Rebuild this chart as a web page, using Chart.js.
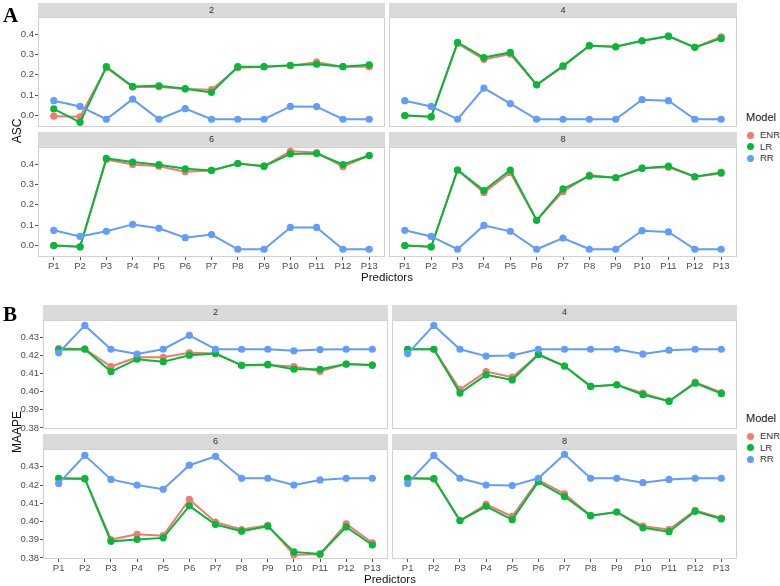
<!DOCTYPE html>
<html>
<head>
<meta charset="utf-8">
<script src="https://cdn.jsdelivr.net/npm/chart.js@4.4.1/dist/chart.umd.min.js"></script>
<style>
  body{margin:0;background:#fff;font-family:'Liberation Sans',Arial,sans-serif}
  #fig{position:relative;width:780px;height:586px;overflow:hidden;background:#fff}
  #fig canvas{position:absolute}
  .strip{position:absolute;background:#dadada;color:#333;font-size:9px;text-align:center}
  .lbl{position:absolute;white-space:nowrap}
  .key{position:absolute;width:7px;height:7px;border-radius:50%}
</style>
</head>
<body>
<div id="fig"></div>
<script>
// Facetted line plots: ASC (panel A) and MAAPE (panel B) by number of predictors

const predictors = ['P1','P2','P3','P4','P5','P6','P7','P8','P9','P10','P11','P12','P13']
const models = ['ENR','LR','RR']
const modelColors = ['#F8766D','#00BA38','#619CFF']
const ascTicks = [0, 0.1, 0.2, 0.3, 0.4]
const maapeTicks = [0.38, 0.39, 0.40, 0.41, 0.42, 0.43]

// panel A - ASC
const ascENR2 = [-0.003,-0.006,0.235,0.140,0.142,0.130,0.127,0.235,0.240,0.245,0.262,0.240,0.240]
const ascLR2  = [0.033,-0.033,0.240,0.143,0.146,0.132,0.114,0.240,0.240,0.247,0.252,0.240,0.249]
const ascRR2  = [0.073,0.045,-0.018,0.081,-0.018,0.034,-0.018,-0.018,-0.018,0.045,0.044,-0.018,-0.018]

const ascENR4 = [0.000,-0.006,0.354,0.276,0.302,0.151,0.240,0.343,0.338,0.367,0.390,0.335,0.387]
const ascLR4  = [0.000,-0.006,0.359,0.285,0.310,0.151,0.244,0.343,0.338,0.367,0.390,0.335,0.379]
const ascRR4  = [0.073,0.045,-0.018,0.135,0.059,-0.018,-0.018,-0.018,-0.018,0.078,0.073,-0.018,-0.018]

const ascENR6 = [0.000,-0.006,0.423,0.398,0.390,0.363,0.369,0.403,0.390,0.463,0.457,0.387,0.442]
const ascLR6  = [0.000,-0.006,0.428,0.410,0.397,0.377,0.369,0.403,0.390,0.450,0.452,0.398,0.442]
const ascRR6  = [0.075,0.045,0.070,0.104,0.085,0.039,0.054,-0.018,-0.018,0.089,0.089,-0.018,-0.018]

const ascENR8 = [0.000,-0.006,0.371,0.260,0.359,0.124,0.265,0.346,0.333,0.380,0.384,0.338,0.354]
const ascLR8  = [0.000,-0.006,0.371,0.270,0.371,0.124,0.278,0.341,0.333,0.380,0.390,0.338,0.359]
const ascRR8  = [0.075,0.045,-0.018,0.099,0.070,-0.018,0.037,-0.018,-0.018,0.073,0.067,-0.018,-0.018]

// panel B - MAAPE
const maapeENR2 = [0.4240,0.4238,0.4140,0.4191,0.4191,0.4216,0.4212,0.4147,0.4149,0.4140,0.4114,0.4154,0.4150]
const maapeLR2  = [0.4234,0.4236,0.4112,0.4181,0.4167,0.4203,0.4212,0.4147,0.4152,0.4125,0.4125,0.4154,0.4147]
const maapeRR2  = [0.4216,0.4368,0.4236,0.4209,0.4236,0.4313,0.4236,0.4236,0.4236,0.4227,0.4234,0.4236,0.4236]

const maapeENR4 = [0.4236,0.4236,0.4012,0.4112,0.4081,0.4207,0.4143,0.4030,0.4039,0.3993,0.3948,0.4054,0.3996]
const maapeLR4  = [0.4236,0.4236,0.3993,0.4094,0.4066,0.4207,0.4143,0.4030,0.4039,0.3984,0.3948,0.4048,0.3990]
const maapeRR4  = [0.4212,0.4368,0.4236,0.4198,0.4201,0.4236,0.4236,0.4236,0.4236,0.4209,0.4231,0.4236,0.4236]

const maapeENR6 = [0.4235,0.4235,0.3901,0.3930,0.3922,0.4121,0.3996,0.3956,0.3979,0.3818,0.3820,0.3987,0.3883]
const maapeLR6  = [0.4237,0.4235,0.3891,0.3901,0.3910,0.4086,0.3983,0.3947,0.3974,0.3833,0.3822,0.3970,0.3871]
const maapeRR6  = [0.4209,0.4363,0.4231,0.4200,0.4177,0.4309,0.4358,0.4237,0.4237,0.4200,0.4228,0.4237,0.4237]

const maapeENR8 = [0.4237,0.4235,0.4005,0.4094,0.4028,0.4228,0.4152,0.4032,0.4052,0.3974,0.3956,0.4061,0.4019]
const maapeLR8  = [0.4237,0.4235,0.4005,0.4083,0.4010,0.4218,0.4137,0.4032,0.4052,0.3965,0.3944,0.4056,0.4014]
const maapeRR8  = [0.4209,0.4363,0.4237,0.4200,0.4197,0.4237,0.4369,0.4237,0.4237,0.4213,0.4231,0.4237,0.4237]

const AX_Y = 34, AX_X = 16, PAD = 6
const fig = document.getElementById('fig')
Chart.defaults.font.family = "'Liberation Sans', Arial, sans-serif"

const panelBorder = {
  id:'panelBorder',
  beforeDatasetsDraw(chart){
    const a = chart.chartArea, c = chart.ctx
    c.save()
    c.strokeStyle = '#d2d2d2'
    c.lineWidth = 1
    c.strokeRect(a.left+0.5, a.top+0.5, a.width-1, a.height-1)
    c.restore()
  }
}

function addText(txt, css){
  const d = document.createElement('div')
  d.className = 'lbl'
  d.textContent = txt
  Object.assign(d.style, css)
  fig.appendChild(d)
  return d
}

// p = panel box {l,t,w,h}, strip height sh
function facet(title, p, sh, series, yMin, yMax, yTicks, digits, showY, showX){
  const s = document.createElement('div')
  s.className = 'strip'
  Object.assign(s.style, {left:p.l+'px', top:(p.t-sh)+'px', width:p.w+'px', height:sh+'px', lineHeight:sh+'px'})
  s.textContent = title
  fig.appendChild(s)

  const cv = document.createElement('canvas')
  const w = p.w + AX_Y + PAD, h = p.h + AX_X + 2*PAD
  cv.width = w; cv.height = h
  cv.style.left = (p.l - AX_Y)+'px'
  cv.style.top = (p.t - PAD)+'px'
  cv.style.width = w+'px'; cv.style.height = h+'px'
  fig.appendChild(cv)

  const datasets = series.map((vals,k)=>({
    label: models[k],
    data: vals.map((v,i)=>({x:i, y:v})),
    borderColor: modelColors[k],
    backgroundColor: modelColors[k],
    pointBackgroundColor: modelColors[k],
    borderWidth: 2,
    pointRadius: 3.6,
    pointBorderWidth: 0,
    tension: 0,
    clip: false,
    order: 3-k
  }))

  const tickFont = {size:9.5}
  new Chart(cv.getContext('2d'), {
    type:'line',
    data:{datasets},
    options:{
      responsive:false,
      animation:false,
      layout:{padding:{top:PAD, right:PAD, bottom:PAD, left:0}},
      plugins:{legend:{display:false}, tooltip:{enabled:false}},
      scales:{
        x:{
          type:'linear', min:-0.6, max:12.6,
          afterBuildTicks: sc=>{ sc.ticks = predictors.map((_,i)=>({value:i})) },
          afterFit: sc=>{ sc.height = AX_X; sc.paddingLeft = 0; sc.paddingRight = 0 },
          ticks:{display:showX, autoSkip:false, maxRotation:0, padding:1, color:'#4d4d4d', font:tickFont,
            callback: v=>predictors[v]},
          grid:{display:showX, drawOnChartArea:false, drawTicks:true, tickLength:3, color:'#555'},
          border:{display:false}
        },
        y:{
          min:yMin, max:yMax,
          afterBuildTicks: sc=>{ sc.ticks = yTicks.map(v=>({value:v})) },
          afterFit: sc=>{ sc.width = AX_Y; sc.paddingTop = 0; sc.paddingBottom = 0 },
          ticks:{display:showY, padding:1, color:'#4d4d4d', font:tickFont,
            callback: v=>Number(v).toFixed(digits)},
          grid:{display:showY, drawOnChartArea:false, drawTicks:true, tickLength:3, color:'#555'},
          border:{display:false}
        }
      }
    },
    plugins:[panelBorder]
  })
}

function legend(top){
  addText('Model', {left:'746px', top:(top-7)+'px', fontSize:'11px', color:'#111', lineHeight:'14px'})
  models.forEach((m,k)=>{
    const y = top + 18 + k*11.5
    const dot = document.createElement('div')
    dot.className = 'key'
    Object.assign(dot.style, {left:'747px', top:(y-3.5)+'px', background:modelColors[k]})
    fig.appendChild(dot)
    addText(m, {left:'760px', top:(y-6)+'px', fontSize:'9.5px', color:'#333', lineHeight:'12px'})
  })
}

// ---- panel A ----
const aRange = [-0.056, 0.484]
facet('2', {l:38, t:17, w:347, h:110}, 14, [ascENR2, ascLR2, ascRR2], aRange[0], aRange[1], ascTicks, 1, true, false)
facet('4', {l:389, t:17, w:348, h:110}, 14, [ascENR4, ascLR4, ascRR4], aRange[0], aRange[1], ascTicks, 1, false, false)
facet('6', {l:38, t:147, w:347, h:110}, 15, [ascENR6, ascLR6, ascRR6], aRange[0], aRange[1], ascTicks, 1, true, true)
facet('8', {l:389, t:147, w:348, h:110}, 15, [ascENR8, ascLR8, ascRR8], aRange[0], aRange[1], ascTicks, 1, false, true)

// ---- panel B ----
const bRange = [0.3794, 0.4398]
facet('2', {l:43, t:320, w:345, h:109}, 15, [maapeENR2, maapeLR2, maapeRR2], bRange[0], bRange[1], maapeTicks, 2, true, false)
facet('4', {l:392, t:320, w:345, h:109}, 15, [maapeENR4, maapeLR4, maapeRR4], bRange[0], bRange[1], maapeTicks, 2, false, false)
facet('6', {l:43, t:449, w:345, h:110}, 15, [maapeENR6, maapeLR6, maapeRR6], bRange[0], bRange[1], maapeTicks, 2, true, true)
facet('8', {l:392, t:449, w:345, h:110}, 15, [maapeENR8, maapeLR8, maapeRR8], bRange[0], bRange[1], maapeTicks, 2, false, true)

// labels and titles
addText('A', {left:'3px', top:'4px', fontSize:'21px', fontWeight:'bold', fontFamily:"'Liberation Serif', serif", color:'#000', lineHeight:'22px'})
addText('B', {left:'3px', top:'303px', fontSize:'21px', fontWeight:'bold', fontFamily:"'Liberation Serif', serif", color:'#000', lineHeight:'22px'})
addText('Predictors', {left:'337px', width:'100px', textAlign:'center', top:'270px', fontSize:'11.5px', color:'#111', lineHeight:'14px'})
addText('Predictors', {left:'340px', width:'100px', textAlign:'center', top:'572px', fontSize:'11.5px', color:'#111', lineHeight:'14px'})
addText('ASC', {left:'-8px', width:'50px', textAlign:'center', top:'124px', fontSize:'12px', color:'#111', lineHeight:'14px', transform:'rotate(-90deg)'})
addText('MAAPE', {left:'-8px', width:'50px', textAlign:'center', top:'425px', fontSize:'12px', color:'#111', lineHeight:'14px', transform:'rotate(-90deg)'})

legend(117)
legend(418)
</script>
</body>
</html>
